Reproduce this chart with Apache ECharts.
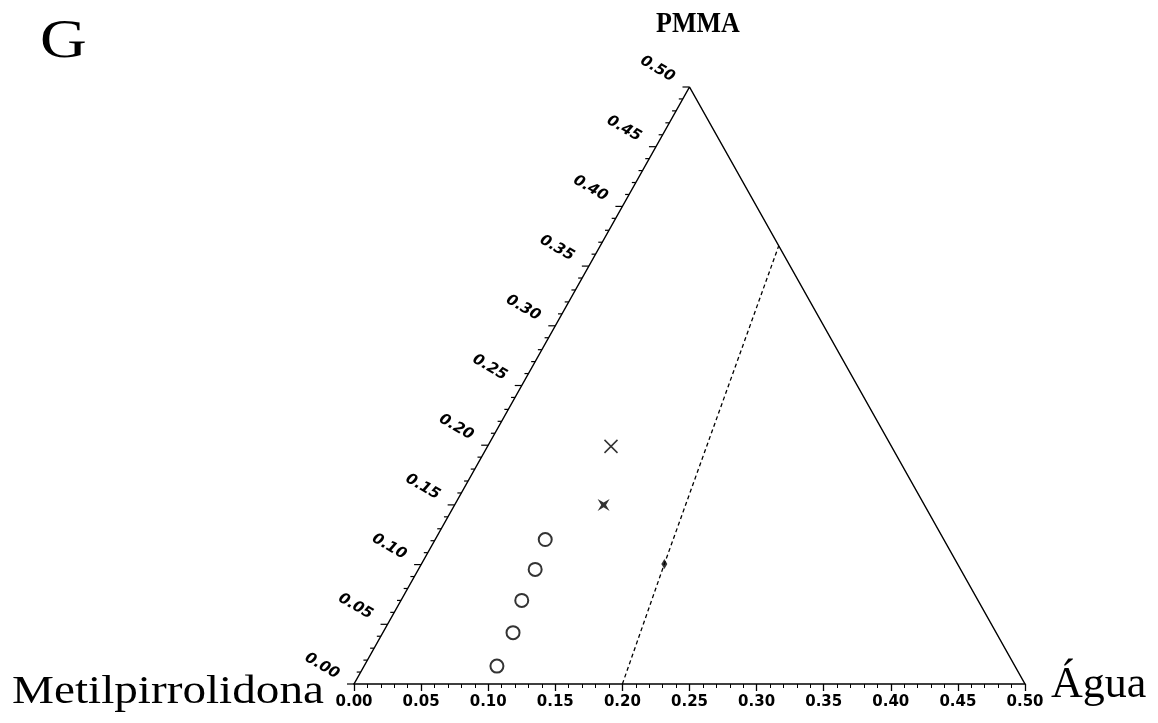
<!DOCTYPE html>
<html>
<head>
<meta charset="utf-8">
<script src="https://cdn.jsdelivr.net/npm/echarts@6/dist/echarts.min.js"></script>
<style>
  html, body { margin: 0; background: #fff; }
  #chart { width: 1158px; height: 723px; }
</style>
</head>
<body>
<div id="chart"></div>
<script>
// zoomed ternary: water fraction on the bottom edge, PMMA fraction on the left edge
const circleWater = [0.099, 0.097, 0.090, 0.087, 0.082]
const circlePmma = [0.015, 0.043, 0.070, 0.096, 0.121]
const starWater = [0.111]
const starPmma = [0.150]
const crossWater = [0.092]
const crossPmma = [0.199]
const tieWater = [0.200, 0.181, 0.133]
const tiePmma = [0.000, 0.1005, 0.367]
const markWater = [0.181]
const markPmma = [0.1005]
const tickLabels = ['0.00', '0.05', '0.10', '0.15', '0.20', '0.25', '0.30', '0.35', '0.40', '0.45', '0.50']

// ternary -> cartesian (x along the bottom edge, y = PMMA)
function toXY(w, p) {
  return [w + p / 2, p]
}
function pts(ws, ps) {
  return ws.map((w, i) => toXY(w, ps[i]))
}

// left edge ticks every 0.01
const leftTicks = []
for (let i = 0; i <= 50; i++) leftTicks.push(i / 100)

const chart = echarts.init(document.getElementById('chart'))

const option = {
  animation: false,
  backgroundColor: '#fff',
  grid: { left: 354, right: 133, top: 87, bottom: 39 },
  xAxis: {
    type: 'value',
    min: 0,
    max: 0.5,
    interval: 0.05,
    axisLine: { show: true, lineStyle: { color: '#000', width: 1.5 } },
    axisTick: { show: true, length: 7, lineStyle: { color: '#000', width: 1.3 } },
    minorTick: { show: true, splitNumber: 5, length: 4, lineStyle: { color: '#000', width: 1 } },
    splitLine: { show: false },
    axisLabel: {
      margin: 11,
      color: '#000',
      fontFamily: 'DejaVu Sans',
      fontWeight: 'bold',
      fontSize: 15,
      formatter: v => v.toFixed(2)
    }
  },
  yAxis: {
    type: 'value',
    min: 0,
    max: 0.5,
    show: false,
    splitLine: { show: false }
  },
  graphic: [
    {
      type: 'text', left: 40, top: 16, scaleX: 1.2,
      style: { text: 'G', font: '54px "Liberation Serif"', fill: '#000' }
    },
    {
      type: 'text', left: 656, top: 9, scaleY: 1.15,
      style: { text: 'PMMA', font: 'bold 26px "Liberation Serif"', fill: '#000' }
    },
    {
      type: 'text', left: 12, top: 672, scaleX: 1.18,
      style: { text: 'Metilpirrolidona', font: '40px "Liberation Serif"', fill: '#000' }
    },
    {
      type: 'text', left: 1051, top: 663,
      style: { text: 'Água', font: '44px "Liberation Serif"', fill: '#000' }
    }
  ],
  series: [
    {
      // triangle: left and right edges
      type: 'line',
      data: [toXY(0, 0), toXY(0, 0.5), toXY(0.5, 0)],
      symbol: 'none',
      lineStyle: { color: '#000', width: 1.5 },
      z: 3
    },
    {
      type: 'custom',
      coordinateSystem: 'cartesian2d',
      data: leftTicks.map(v => toXY(0, v)),
      renderItem: function (params, api) {
        const v = api.value(1)
        const pt = api.coord([api.value(0), v])
        const major = Math.round(v * 100) % 5 === 0
        const len = major ? 7 : 4
        const children = [
          {
            type: 'line',
            shape: { x1: pt[0], y1: pt[1], x2: pt[0] - len, y2: pt[1] },
            style: { stroke: '#000', lineWidth: 1.2 }
          }
        ]
        if (major) {
          children.push({
            type: 'text',
            x: pt[0] - 32,
            y: pt[1] - 18,
            rotation: -Math.PI / 6,
            style: {
              text: tickLabels[Math.round(v * 20)],
              fill: '#000',
              font: 'italic bold 15px "DejaVu Sans"',
              align: 'center',
              verticalAlign: 'middle',
              textAlign: 'center',
              textVerticalAlign: 'middle'
            }
          })
        }
        return { type: 'group', children: children }
      },
      z: 3
    },
    {
      // tie line
      type: 'line',
      data: pts(tieWater, tiePmma),
      symbol: 'none',
      lineStyle: { color: '#000', width: 1.3, type: [4, 3] },
      z: 2
    },
    {
      type: 'scatter',
      data: pts(markWater, markPmma),
      symbol: 'diamond',
      symbolSize: [6, 10],
      itemStyle: { color: '#000' }
    },
    {
      type: 'scatter',
      data: pts(circleWater, circlePmma),
      symbol: 'emptyCircle',
      symbolSize: 13,
      itemStyle: { color: '#000', borderColor: '#000', borderWidth: 1.8 }
    },
    {
      type: 'scatter',
      data: pts(starWater, starPmma),
      symbol: 'path://M0,0L5,3L10,0L7,5L10,10L5,7L0,10L3,5Z',
      symbolSize: 12,
      itemStyle: { color: '#000' }
    },
    {
      type: 'scatter',
      data: pts(crossWater, crossPmma),
      symbol: 'path://M0,0L10,10M10,0L0,10',
      symbolSize: 13,
      itemStyle: { color: 'none', borderColor: '#000', borderWidth: 1.5 }
    }
  ]
}

chart.setOption(option)
</script>
</body>
</html>
